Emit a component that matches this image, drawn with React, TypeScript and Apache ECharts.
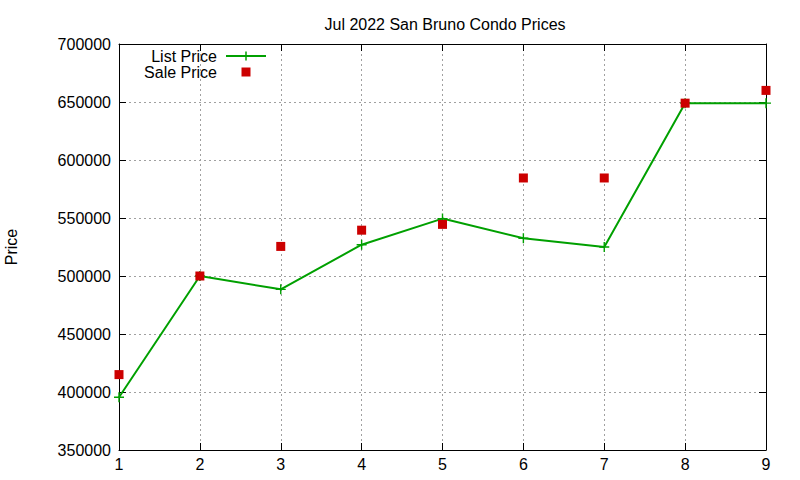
import React, { useEffect, useRef } from "react";
import * as echarts from "echarts";

const xValues = [1, 2, 3, 4, 5, 6, 7, 8, 9];
const listPrice = [395500, 500000, 488500, 527000, 549500, 532500, 525000, 649000, 649000];
const salePrice = [415000, 500000, 525500, 539500, 544500, 584500, 584500, 649000, 660000];
const xTicks = [1, 2, 3, 4, 5, 6, 7, 8, 9];
const yTicks = [350000, 400000, 450000, 500000, 550000, 600000, 650000, 700000];

const FONT = "Liberation Sans, Arial, sans-serif";
const GREEN = "#00a000";
const RED = "#cc0000";
const PLUS = "path://M0,4.3L10,4.3L10,5.7L0,5.7Z M4.3,0L5.7,0L5.7,10L4.3,10Z";

export default function App() {
  const ref = useRef<HTMLDivElement>(null);
  useEffect(() => {
    if (!ref.current) return;
    const chart = echarts.init(ref.current, null, { renderer: "svg" });
    const gridLine = { show: true, lineStyle: { color: "#a0a0a0", type: [2, 3], width: 1 } };
    const tick = { show: true, inside: true, length: 7, lineStyle: { color: "#000", width: 1 } };
    const axisLine = { show: true, lineStyle: { color: "#000", width: 1 } };
    chart.setOption({
      animation: false,
      backgroundColor: "#fff",
      title: {
        text: "Jul 2022 San Bruno Condo Prices",
        left: 440,
        textAlign: "center",
        top: 11,
        textStyle: { fontFamily: FONT, fontSize: 16, fontWeight: "normal", color: "#000" },
      },
      grid: { left: 119, right: 34, top: 44, bottom: 30, containLabel: false, outerBoundsMode: "none" },
      xAxis: [
        {
          type: "value",
          min: 1,
          max: 9,
          interval: 1,
          position: "bottom",
          axisLine,
          axisTick: tick,
          splitLine: gridLine,
          axisLabel: {
            fontFamily: FONT,
            fontSize: 16,
            color: "#000",
            margin: 6,
            formatter: (v: number) => (xTicks.includes(v) ? String(v) : ""),
          },
        },
        {
          type: "value",
          min: 1,
          max: 9,
          interval: 1,
          position: "top",
          axisLine,
          axisTick: tick,
          splitLine: { show: false },
          axisLabel: { show: false },
        },
      ],
      yAxis: [
        {
          type: "value",
          min: yTicks[0],
          max: yTicks[yTicks.length - 1],
          interval: 50000,
          position: "left",
          name: "Price",
          nameLocation: "middle",
          nameGap: 100,
          nameRotate: 90,
          nameTextStyle: { fontFamily: FONT, fontSize: 16, color: "#000" },
          axisLine,
          axisTick: tick,
          splitLine: gridLine,
          axisLabel: {
            fontFamily: FONT,
            fontSize: 16,
            color: "#000",
            margin: 8,
            formatter: (v: number) => (yTicks.includes(v) ? String(v) : ""),
          },
        },
        {
          type: "value",
          min: yTicks[0],
          max: yTicks[yTicks.length - 1],
          interval: 50000,
          position: "right",
          axisLine,
          axisTick: tick,
          splitLine: { show: false },
          axisLabel: { show: false },
        },
      ],
      series: [
        {
          name: "List Price",
          type: "line",
          data: xValues.map((x, i) => [x, listPrice[i]]),
          symbol: PLUS,
          symbolSize: 10,
          showAllSymbol: true,
          lineStyle: { color: GREEN, width: 2 },
          itemStyle: { color: GREEN },
          z: 3,
        },
        {
          name: "Sale Price",
          type: "scatter",
          data: xValues.map((x, i) => [x, salePrice[i]]),
          symbol: "rect",
          symbolSize: 9,
          itemStyle: { color: RED, opacity: 1 },
          z: 4,
        },
      ],
      graphic: [
        {
          type: "text",
          style: { text: "List Price", x: 217, y: 56, align: "right", verticalAlign: "middle", font: `16px ${FONT}`, fill: "#000" },
        },
        {
          type: "text",
          style: { text: "Sale Price", x: 217, y: 72, align: "right", verticalAlign: "middle", font: `16px ${FONT}`, fill: "#000" },
        },
        {
          type: "line",
          shape: { x1: 226, y1: 56, x2: 266, y2: 56 },
          style: { stroke: GREEN, lineWidth: 2 },
        },
        {
          type: "line",
          shape: { x1: 246, y1: 51.5, x2: 246, y2: 60.5 },
          style: { stroke: GREEN, lineWidth: 1.5 },
        },
        {
          type: "rect",
          shape: { x: 241.5, y: 67.5, width: 9, height: 9 },
          style: { fill: RED },
        },
      ],
    });
    return () => chart.dispose();
  }, []);
  return <div ref={ref} style={{ width: 800, height: 480, position: "absolute", left: 0, top: 0 }} />;
}
